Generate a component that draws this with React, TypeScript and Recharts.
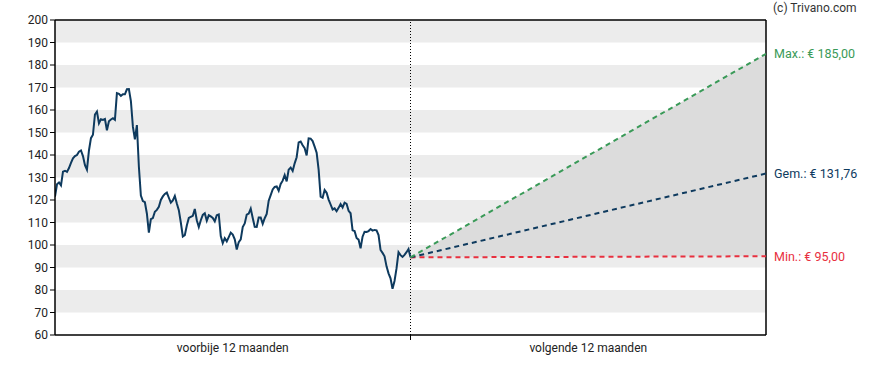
import React from 'react';
import {
  ComposedChart, Line, Area, XAxis, YAxis, ReferenceArea, ReferenceLine,
} from 'recharts';

// Past 12 months closing prices (evenly spaced samples)
const pastPrices = [
  121.5, 127, 127.8, 126.5, 132.6, 133, 132.5, 134.2, 136.5, 138.5,
  139.5, 140, 141.5, 142, 139.5, 135.5, 133.5, 142, 147.5, 149,
  158, 159.3, 154.1, 155.9, 155.6, 156, 151, 155, 155.8, 156.3,
  155.6, 167.5, 167.2, 166.3, 167, 167, 169.2, 169.3, 164, 152.6,
  147, 153.3, 134.8, 122, 119.5, 119, 114, 105.5, 111.5, 112,
  114.8, 115.6, 117, 120, 121.6, 122.7, 123.3, 121, 118.8, 119.8,
  121.8, 118.4, 115.5, 110, 103.8, 104.4, 108.7, 112, 112.5, 113,
  116, 111, 108, 111, 113.4, 114.1, 110.8, 113.2, 112.7, 112,
  110.5, 113.2, 113.6, 104, 100.8, 103, 101.6, 103.5, 105.5, 104.6,
  102.5, 98, 101.3, 102.5, 108, 109.6, 113.5, 114, 116.2, 112,
  108.1, 108, 112.2, 112.2, 109.4, 111.9, 113.8, 119.7, 122.2, 124.7,
  125.8, 126, 124.1, 127.1, 128.6, 131.1, 128.3, 133.5, 134.4, 132.9,
  136.3, 139, 145.6, 146, 144.3, 143, 139.8, 147.4, 147.3, 146.2,
  143.7, 141, 133.5, 121.5, 121, 124.4, 123.2, 120.2, 118, 115.8,
  116.3, 115, 116.5, 118.2, 116.7, 118.8, 118.3, 115.2, 114.1, 106.5,
  106.2, 103.1, 102.4, 98.5, 103.7, 105.9, 105.8, 106.2, 107.1, 106.4,
  106.7, 106.5, 104.4, 97.8, 96.5, 95, 90.5, 87.4, 85.2, 80.5,
  84, 89.6, 96.8, 95.5, 94.7, 95.6, 96.8, 98.2, 94.5,
];

// Forecast for the next 12 months
const forecastMax = 185.0;
const forecastAvg = 131.76;
const forecastMin = 95.0;
const forecastLabels = ['Max.: € 185,00', 'Gem.: € 131,76', 'Min.: € 95,00'];

// Axes
const yTicks = [60, 70, 80, 90, 100, 110, 120, 130, 140, 150, 160, 170, 180, 190, 200];
const grayBands = [[190, 200], [170, 180], [150, 160], [130, 140], [110, 120], [90, 100], [70, 80]];
const periodLabels = ['voorbije 12 maanden', 'volgende 12 maanden'];
const copyright = '(c) Trivano.com';

const lastIdx = pastPrices.length - 1;
const horizon = lastIdx * 2;
const lastPrice = pastPrices[lastIdx];

const data: any[] = pastPrices.map((p, i) => ({ x: i, price: p }));
data[lastIdx] = {
  ...data[lastIdx],
  max: lastPrice,
  avg: lastPrice,
  min: lastPrice,
  range: [lastPrice, lastPrice],
};
data.push({
  x: horizon,
  max: forecastMax,
  avg: forecastAvg,
  min: forecastMin,
  range: [forecastMin, forecastMax],
});

const FONT = 'Roboto, "Liberation Sans", Arial, sans-serif';
const GREEN = '#3a9a58';
const NAVY = '#0e3a5e';
const RED = '#e8303f';

const endLabel = (color: string, text: string) => (props: any) => {
  const { x, y, index } = props;
  if (index !== data.length - 1 || x == null || y == null) return <g />;
  return (
    <text x={x + 8} y={y} dy="0.35em" fill={color} fontSize={12.5} fontFamily={FONT} textAnchor="start">
      {text}
    </text>
  );
};

const XTick = (props: any) => {
  const { x, y, payload } = props;
  const v = payload.value;
  if (v === lastIdx) {
    return <line x1={x} x2={x} y1={y - 7} y2={y - 2} stroke="#000" strokeWidth={1} />;
  }
  const label = v < lastIdx ? periodLabels[0] : periodLabels[1];
  return (
    <text x={x} y={y} dy={10} textAnchor="middle" fill="#222" fontSize={12} fontFamily={FONT}>
      {label}
    </text>
  );
};

export default function App() {
  return (
    <div style={{ position: 'absolute', left: 0, top: 0, width: 888, height: 370, fontFamily: FONT }}>
      <div style={{ position: 'absolute', left: 773, top: 1, fontSize: 12, color: '#333', fontFamily: FONT }}>
        {copyright}
      </div>
      <ComposedChart
        width={888}
        height={370}
        data={data}
        margin={{ top: 20, right: 122, bottom: 5, left: 5 }}
      >
        {grayBands.map(([a, b]) => (
          <ReferenceArea key={a} y1={a} y2={b} x1={0} x2={horizon} fill="#ececec" fillOpacity={1} stroke="none" ifOverflow="hidden" />
        ))}
        <XAxis
          dataKey="x"
          type="number"
          domain={[0, horizon]}
          ticks={[lastIdx / 2, lastIdx, lastIdx * 1.5]}
          tick={<XTick />}
          tickLine={false}
          tickSize={5}
          tickMargin={2}
          height={30}
          axisLine={{ stroke: '#000', strokeWidth: 1.5 }}
          allowDataOverflow
        />
        <YAxis
          type="number"
          domain={[60, 200]}
          ticks={yTicks}
          width={50}
          tickSize={5}
          tickMargin={2}
          tickLine={{ stroke: '#000' }}
          axisLine={{ stroke: '#000', strokeWidth: 1.5 }}
          tick={{ fill: '#222', fontSize: 12, fontFamily: FONT }}
          interval={0}
          allowDataOverflow
        />
        <Area
          dataKey="range"
          type="linear"
          fill="#dcdcdc"
          fillOpacity={1}
          stroke="none"
          isAnimationActive={false}
          dot={false}
          activeDot={false}
        />
        <ReferenceLine y={200} stroke="#000" strokeWidth={1.5} />
        <ReferenceLine x={horizon} stroke="#000" strokeWidth={1.5} />
        <ReferenceLine x={lastIdx} stroke="#000" strokeWidth={1} strokeDasharray="1 2" />
        <Line
          dataKey="price"
          type="linear"
          stroke={NAVY}
          strokeWidth={2}
          dot={false}
          activeDot={false}
          isAnimationActive={false}
        />
        <Line
          dataKey="min"
          type="linear"
          stroke={RED}
          strokeWidth={2}
          strokeDasharray="5 4"
          dot={false}
          activeDot={false}
          isAnimationActive={false}
          label={endLabel(RED, forecastLabels[2])}
        />
        <Line
          dataKey="avg"
          type="linear"
          stroke={NAVY}
          strokeWidth={2}
          strokeDasharray="5 4"
          dot={false}
          activeDot={false}
          isAnimationActive={false}
          label={endLabel(NAVY, forecastLabels[1])}
        />
        <Line
          dataKey="max"
          type="linear"
          stroke={GREEN}
          strokeWidth={2}
          strokeDasharray="5 4"
          dot={false}
          activeDot={false}
          isAnimationActive={false}
          label={endLabel(GREEN, forecastLabels[0])}
        />
      </ComposedChart>
    </div>
  );
}
